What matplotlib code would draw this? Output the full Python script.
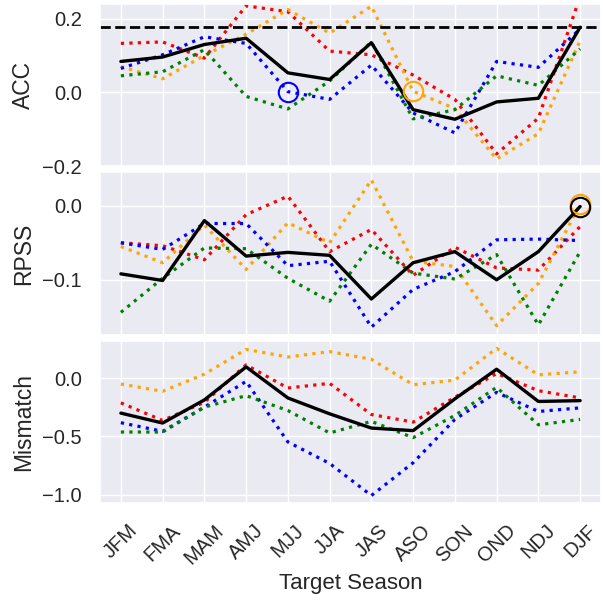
import matplotlib
matplotlib.use("Agg")
import matplotlib.pyplot as plt
import seaborn as sns
from matplotlib.ticker import MultipleLocator

seasons = ["JFM", "FMA", "MAM", "AMJ", "MJJ", "JJA", "JAS", "ASO", "SON", "OND", "NDJ", "DJF"]

# ACC
acc_black = [0.084, 0.096, 0.130, 0.147, 0.053, 0.035, 0.135, -0.047, -0.073, -0.026, -0.016, 0.177]
acc_red = [0.133, 0.137, 0.093, 0.235, 0.219, 0.112, 0.102, 0.047, -0.019, -0.167, -0.070, 0.260]
acc_orange = [0.070, 0.037, 0.100, 0.158, 0.225, 0.161, 0.234, 0.003, -0.044, -0.181, -0.112, 0.140]
acc_blue = [0.065, 0.102, 0.151, 0.133, 0.002, -0.019, 0.074, -0.056, -0.110, 0.084, 0.068, 0.172]
acc_green = [0.045, 0.056, 0.116, -0.011, -0.045, 0.031, 0.137, -0.072, -0.047, 0.045, 0.019, 0.118]
acc_ref = 0.177

# RPSS
rpss_black = [-0.092, -0.101, -0.020, -0.068, -0.063, -0.067, -0.126, -0.077, -0.062, -0.100, -0.062, -0.001]
rpss_red = [-0.050, -0.054, -0.073, -0.012, 0.013, -0.062, -0.032, -0.094, -0.056, -0.084, -0.087, -0.028]
rpss_orange = [-0.055, -0.077, -0.026, -0.086, -0.023, -0.050, 0.035, -0.075, -0.082, -0.162, -0.105, 0.002]
rpss_blue = [-0.050, -0.059, -0.024, -0.024, -0.081, -0.075, -0.164, -0.113, -0.089, -0.046, -0.045, -0.047]
rpss_green = [-0.144, -0.098, -0.057, -0.058, -0.098, -0.129, -0.052, -0.091, -0.099, -0.066, -0.161, -0.062]

# Mismatch
mis_black = [-0.300, -0.385, -0.187, 0.096, -0.170, -0.306, -0.428, -0.450, -0.178, 0.076, -0.200, -0.193]
mis_red = [-0.212, -0.363, -0.207, 0.113, -0.085, -0.045, -0.312, -0.377, -0.164, 0.040, -0.108, -0.170]
mis_orange = [-0.051, -0.113, 0.034, 0.246, 0.181, 0.227, 0.161, -0.057, -0.017, 0.255, 0.028, 0.054]
mis_blue = [-0.382, -0.456, -0.249, -0.028, -0.547, -0.731, -1.006, -0.725, -0.354, -0.122, -0.286, -0.255]
mis_green = [-0.462, -0.462, -0.249, -0.150, -0.278, -0.470, -0.371, -0.510, -0.320, -0.079, -0.400, -0.354]

sns.set_theme(style="darkgrid")
plt.rcParams["font.family"] = ["Liberation Sans", "DejaVu Sans"]

x = list(range(len(seasons)))

fig, axes = plt.subplots(3, 1, figsize=(6.03, 6.01), dpi=100, sharex=True)
fig.subplots_adjust(left=100 / 603, right=601 / 603, top=1 - 4 / 601, bottom=1 - 503 / 601, hspace=0.04)

panels = [
    ("ACC", acc_red, acc_orange, acc_blue, acc_green, acc_black),
    ("RPSS", rpss_red, rpss_orange, rpss_blue, rpss_green, rpss_black),
    ("Mismatch", mis_red, mis_orange, mis_blue, mis_green, mis_black),
]

for ax, (name, r, o, b, g, k) in zip(axes, panels):
    for vals, col in [(r, "red"), (o, "orange"), (b, "blue"), (g, "green")]:
        ax.plot(x, vals, linestyle=":", linewidth=2.3, color=col)
    ax.plot(x, k, color="black", linewidth=2.4)
    ax.set_ylabel(name, fontsize=16.5, labelpad=5)
    ax.tick_params(axis="y", labelsize=14.5, pad=7)

# markers for highlighted points
axes[0].axhline(acc_ref, color="black", linestyle="--", linewidth=2)
axes[0].plot(x[4], acc_blue[4], "o", mfc="none", mec="blue", ms=14, mew=1.5)
axes[0].plot(x[7], acc_orange[7], "o", mfc="none", mec="orange", ms=14, mew=1.5)
axes[1].plot(x[11], rpss_orange[11], "o", mfc="none", mec="orange", ms=14, mew=1.5)
axes[1].plot(x[11], rpss_black[11], "o", mfc="none", mec="black", ms=14, mew=1.5)

axes[0].set_ylim(-0.2, 0.24)
axes[1].set_ylim(-0.174, 0.045)
axes[2].set_ylim(-1.07, 0.318)
axes[0].yaxis.set_major_locator(MultipleLocator(0.2))
axes[1].yaxis.set_major_locator(MultipleLocator(0.1))
axes[2].yaxis.set_major_locator(MultipleLocator(0.5))

axes[2].set_xlim(-0.5, 11.5)
axes[2].set_xticks(x)
axes[2].set_xticklabels(seasons, rotation=45, fontsize=14.5)
axes[2].tick_params(axis="x", pad=7)
axes[2].set_xlabel("Target Season", fontsize=16)
fig.align_ylabels(axes)

fig.savefig("out.png", dpi=100)
